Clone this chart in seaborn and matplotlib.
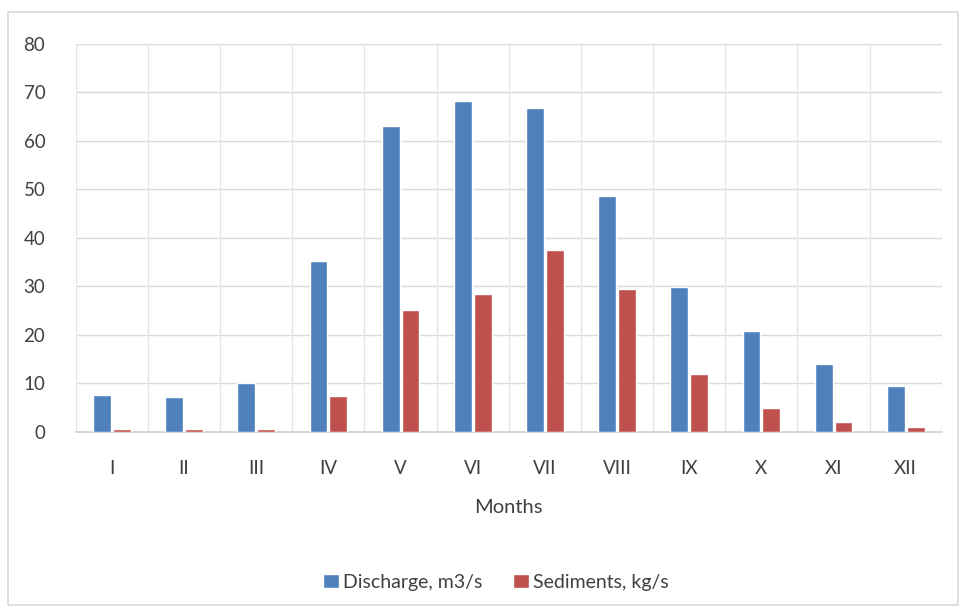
import matplotlib
matplotlib.use("Agg")
import matplotlib.pyplot as plt
import pandas as pd
import seaborn as sns
from matplotlib.patches import Rectangle

months = ["I", "II", "III", "IV", "V", "VI", "VII", "VIII", "IX", "X", "XI", "XII"]
discharge = [7.7, 7.2, 10.1, 35.3, 63.0, 68.2, 66.7, 48.7, 29.8, 20.7, 14.0, 9.4]
sediments = [0.5, 0.5, 0.5, 7.3, 25.2, 28.4, 37.6, 29.4, 12.0, 5.0, 2.0, 1.0]
series_names = ["Discharge, m3/s", "Sediments, kg/s"]
colors = ["#4F81BD", "#C0504D"]

datos = pd.DataFrame({
    "mes": months * 2,
    "valor": discharge + sediments,
    "serie": [series_names[0]] * len(months) + [series_names[1]] * len(months),
})

sns.set_style("white")
plt.rcParams["font.family"] = ["Lato", "DejaVu Sans"]

fig = plt.figure(figsize=(9.6, 6.1), dpi=100)
ax = fig.add_axes([0.079, 0.292, 0.902, 0.636])

sns.barplot(data=datos, x="mes", y="valor", hue="serie", order=months,
            hue_order=series_names, palette=colors, width=0.55, gap=0.1,
            saturation=1, ax=ax, zorder=3)

ax.set_ylim(0, 80)
ax.set_yticks(range(0, 81, 10))
ax.set_xlim(-0.5, len(months) - 0.5)

# grid: horizontal at ticks, vertical at category boundaries
for y in range(10, 81, 10):
    ax.axhline(y, color="#D9D9D9", lw=1, zorder=0)
for i in range(len(months) + 1):
    ax.axvline(i - 0.5, color="#E6E6E6", lw=1, zorder=0)

for s in ["top", "right", "left"]:
    ax.spines[s].set_visible(False)
ax.spines["bottom"].set_color("#D0D0D0")
ax.spines["bottom"].set_linewidth(1.2)

ax.tick_params(axis="both", length=0, labelsize=13.5, colors="#404040")
ax.tick_params(axis="x", pad=20)
ax.tick_params(axis="y", pad=22)
ax.set_xlabel("Months", fontsize=14.5, color="#404040", labelpad=16)
ax.set_ylabel("")

ax.legend(loc="upper center", bbox_to_anchor=(0.485, -0.32), ncol=2,
          frameon=False, fontsize=14, handlelength=0.8, handleheight=0.8,
          handletextpad=0.2, columnspacing=1.6, labelcolor="#404040")

fig.patches.append(Rectangle((0.008, 0.008), 0.99, 0.972, transform=fig.transFigure,
                             fill=False, edgecolor="#D9D9D9", lw=1.2))

fig.savefig("out.png", dpi=100)
